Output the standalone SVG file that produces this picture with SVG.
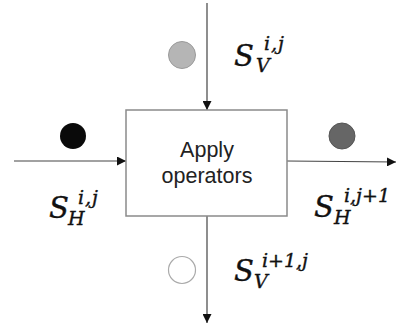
<svg xmlns="http://www.w3.org/2000/svg" width="396" height="327" viewBox="0 0 396 327">
<style>
.ln{stroke:#444;stroke-width:1.2;fill:none}
.box{fill:#fff;stroke:#8a8a8a;stroke-width:1.5}
.lbl{font-family:"Liberation Sans",Arial,sans-serif;font-size:21.5px;fill:#222;text-anchor:middle}
.m{font-family:"DejaVu Serif","Liberation Serif",serif;font-style:italic;fill:#111;stroke:#111;stroke-width:0.4;font-size:29px}
.sm{font-size:19px}
</style>
<defs>
<marker id="ah" viewBox="0 0 10 10" refX="10" refY="5" markerWidth="9" markerHeight="9" markerUnits="userSpaceOnUse" orient="auto">
<path d="M0,0 L10,5 L0,10 z" fill="#111"/>
</marker>
</defs>
<g id="connectors">
<line class="ln" x1="207" y1="3" x2="207" y2="110" marker-end="url(#ah)"/>
<line class="ln" x1="207" y1="216" x2="207" y2="323" marker-end="url(#ah)"/>
<line class="ln" x1="14" y1="161" x2="126" y2="161" marker-end="url(#ah)"/>
<line class="ln" x1="287" y1="161" x2="396" y2="162" marker-end="url(#ah)"/>
</g>
<g id="box">
<rect class="box" x="126" y="110" width="161" height="106"/>
<text class="lbl" x="207" y="157">Apply</text>
<text class="lbl" x="207" y="183">operators</text>
</g>
<g id="circle-top"><circle cx="182" cy="55" r="13.5" fill="#b5b5b5" stroke="#9a9a9a" stroke-width="1"/></g>
<g id="circle-left"><circle cx="73" cy="136" r="13" fill="#0a0a0a"/></g>
<g id="circle-right"><circle cx="342" cy="136" r="13" fill="#666" stroke="#555" stroke-width="1"/></g>
<g id="circle-bottom"><circle cx="182" cy="270" r="13.5" fill="#fff" stroke="#aaa" stroke-width="1.2"/></g>
<g id="label-SV-top">
<text class="m" x="234" y="66">S<tspan class="sm" x="264" y="50" letter-spacing="1">i,j</tspan><tspan class="sm" x="256" y="72">V</tspan></text>
</g>
<g id="label-SH-left">
<text class="m" x="49" y="218">S<tspan class="sm" x="78" y="204" letter-spacing="1">i,j</tspan><tspan class="sm" x="68" y="225">H</tspan></text>
</g>
<g id="label-SH-right">
<text class="m" x="314" y="217">S<tspan class="sm" x="344" y="202">i,j+1</tspan><tspan class="sm" x="334" y="224">H</tspan></text>
</g>
<g id="label-SV-bottom">
<text class="m" x="234" y="281">S<tspan class="sm" x="262" y="267">i+1,j</tspan><tspan class="sm" x="254" y="288">V</tspan></text>
</g>
</svg>
